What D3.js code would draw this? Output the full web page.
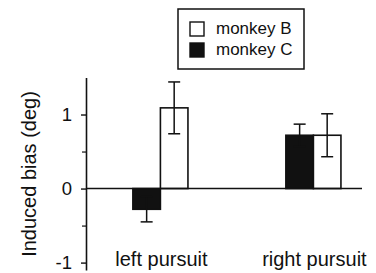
<!DOCTYPE html>
<html>
<head>
<meta charset="utf-8">
<script src="https://cdn.jsdelivr.net/npm/d3@7"></script>
<style>
  body { margin: 0; background: #fff; }
  text { font-family: "Liberation Sans", Arial, Helvetica, sans-serif; fill: #111; }
</style>
</head>
<body>
<div id="chart"></div>
<script>
// data
const categories = ["left pursuit", "right pursuit"];
const monkeys = ["monkey C", "monkey B"];
const monkeyB = [1.09, 0.72];
const monkeyBErr = [0.35, 0.29];
const monkeyC = [-0.28, 0.72];
const monkeyCErr = [0.17, 0.15];
const yTicks = [-1, 0, 1];
const yMinorTicks = [-0.5, 0.5];

const width = 376, height = 273;

const svg = d3.select("#chart")
  .append("svg")
  .attr("width", width)
  .attr("height", height);

// scales
const yScale = d3.scaleLinear()
  .domain([-1.1, 1.5])
  .range([270, 77.5]);

const xScale = d3.scaleBand()
  .domain(categories)
  .range([86, 362])
  .paddingInner(0.64)
  .paddingOuter(0.222)
  .align(0.69);

const xInner = d3.scaleBand()
  .domain(monkeys)
  .range([0, xScale.bandwidth()]);

const fills = { "monkey C": "#111", "monkey B": "#fff" };

// rows: one per bar
const rows = [];
categories.forEach((c, i) => {
  rows.push({ cat: c, monkey: "monkey C", value: monkeyC[i], err: monkeyCErr[i] });
  rows.push({ cat: c, monkey: "monkey B", value: monkeyB[i], err: monkeyBErr[i] });
});

// y axis (plain hyphen for the minus sign, like the original)
const yAxis = svg.append("g")
  .attr("transform", "translate(86,0)")
  .call(d3.axisLeft(yScale).tickValues(yTicks).tickFormat(d => String(d))
    .tickSize(5).tickSizeOuter(0).tickPadding(9));
yAxis.select(".domain").attr("stroke", "#111").attr("stroke-width", 1.6);
yAxis.selectAll(".tick line").attr("stroke", "#111").attr("stroke-width", 1.4);
yAxis.selectAll(".tick text")
  .attr("font-size", 18.5)
  .attr("font-family", "Liberation Sans, Arial, sans-serif")
  .attr("fill", "#111");

// minor ticks
svg.append("g")
  .attr("transform", "translate(86,0)")
  .call(d3.axisLeft(yScale).tickValues(yMinorTicks).tickFormat("").tickSize(4).tickSizeOuter(0))
  .call(g => g.select(".domain").remove())
  .selectAll(".tick line").attr("stroke", "#111").attr("stroke-width", 1.2);

// bars
svg.append("g")
  .selectAll("rect")
  .data(rows)
  .join("rect")
  .attr("x", d => xScale(d.cat) + xInner(d.monkey))
  .attr("width", xInner.bandwidth())
  .attr("y", d => yScale(Math.max(0, d.value)))
  .attr("height", d => Math.abs(yScale(d.value) - yScale(0)))
  .attr("fill", d => fills[d.monkey])
  .attr("stroke", "#111")
  .attr("stroke-width", 1.6);

// error bars
const errG = svg.append("g")
  .attr("stroke", "#111")
  .attr("stroke-width", 1.5);
const capHalf = 6;
rows.forEach(d => {
  const cx = xScale(d.cat) + xInner(d.monkey) + xInner.bandwidth() / 2;
  const yHi = yScale(d.value + d.err), yLo = yScale(d.value - d.err);
  errG.append("line").attr("x1", cx).attr("x2", cx).attr("y1", yHi).attr("y2", yLo);
  errG.append("line").attr("x1", cx - capHalf).attr("x2", cx + capHalf).attr("y1", yHi).attr("y2", yHi);
  errG.append("line").attr("x1", cx - capHalf).attr("x2", cx + capHalf).attr("y1", yLo).attr("y2", yLo);
});

// zero line
svg.append("line")
  .attr("x1", 86).attr("x2", 362)
  .attr("y1", yScale(0)).attr("y2", yScale(0))
  .attr("stroke", "#111")
  .attr("stroke-width", 1.6);

// category labels
svg.append("g")
  .selectAll("text")
  .data(categories)
  .join("text")
  .attr("x", d => xScale(d) + xScale.bandwidth() / 2 + 1)
  .attr("y", 266)
  .attr("text-anchor", "middle")
  .attr("font-size", 20)
  .text(d => d);

// y label
svg.append("text")
  .attr("transform", "translate(36,174) rotate(-90)")
  .attr("text-anchor", "middle")
  .attr("font-size", 20)
  .text("Induced bias (deg)");

// legend
const legend = svg.append("g");
legend.append("rect")
  .attr("x", 178).attr("y", 9)
  .attr("width", 126).attr("height", 60)
  .attr("fill", "#fff")
  .attr("stroke", "#111")
  .attr("stroke-width", 1.5);
const legendItems = ["monkey B", "monkey C"];
legendItems.forEach((m, i) => {
  legend.append("rect")
    .attr("x", 190).attr("y", 22 + i * 21)
    .attr("width", 14).attr("height", 14)
    .attr("fill", fills[m])
    .attr("stroke", "#111")
    .attr("stroke-width", 1.4);
  legend.append("text")
    .attr("x", 216).attr("y", 34 + i * 21)
    .attr("font-size", 17)
    .text(m);
});
</script>
</body>
</html>
